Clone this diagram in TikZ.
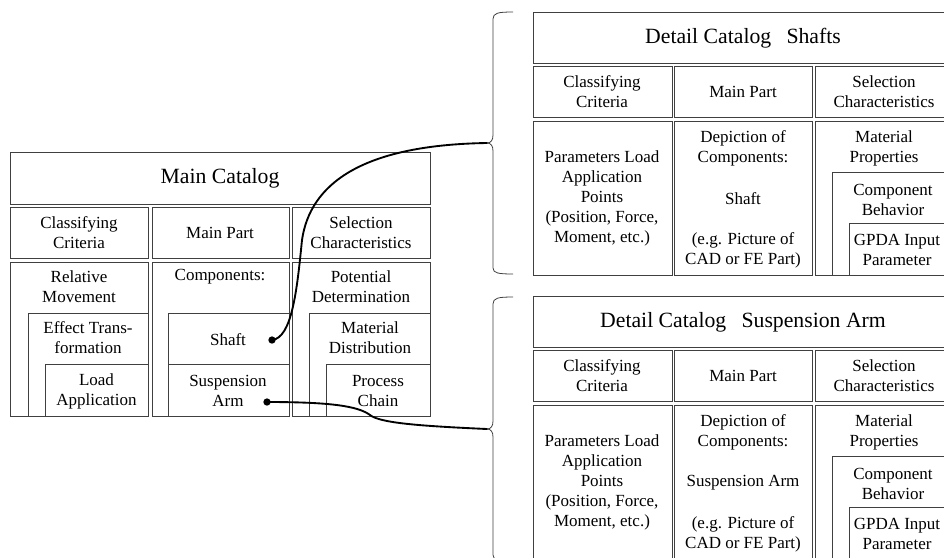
\documentclass[tikz,border=0pt]{standalone}
\usepackage{fontspec}
\setmainfont{Liberation Serif}

\begin{document}
\begin{tikzpicture}[x=0.75pt, y=-0.75pt, box/.style={draw=black!75, line width=0.6pt}, lbl/.style={align=center, inner sep=0pt, font=\fontsize{12.75}{15}\selectfont}, head/.style={inner sep=0pt, font=\fontsize{16.3}{19}\selectfont}, link/.style={line width=1.4pt, line cap=round}, dot/.style={circle, fill, inner sep=0pt, minimum size=5.5pt},]
   \useasboundingbox (0,0) rectangle (944,557);
   \clip (0,0) rectangle (944,557);

   % main catalog
   \draw[box] (10,152) rectangle (430,204);
   \node[head] (main) at (220,178) {Main Catalog};
   \draw[box] (10,207) rectangle (148,258);
   \draw[box] (152,207) rectangle (289,258);
   \draw[box] (292,207) rectangle (430,258);
   \node[lbl] (mcrit) at (79,233) {Classifying\\Criteria};
   \node[lbl] (mpart) at (220,233) {Main Part};
   \node[lbl] (msel) at (361,233) {Selection\\Characteristics};
   \draw[box] (10,262) rectangle (148,416);
   \draw[box] (152,262) rectangle (289,416);
   \draw[box] (292,262) rectangle (430,416);
   \node[lbl] (relmov) at (79,287) {Relative\\Movement};
   \draw[box] (28,313) rectangle (148,416);
   \node[lbl] (efftr) at (88,338) {Effect Trans-\\formation};
   \draw[box] (45,364) rectangle (148,416);
   \node[lbl] (loadapp) at (96.5,391) {Load\\Application};
   \node[lbl] (comps) at (220,277) {Components:};
   \draw[box] (168,313) rectangle (289,364);
   \node[lbl] (shaft) at (228,340) {Shaft};
   \draw[box] (168,364) rectangle (289,416);
   \node[lbl] (arm) at (228,391) {Suspension\\Arm};
   \node[lbl] (potdet) at (361,287) {Potential\\Determination};
   \draw[box] (309,313) rectangle (430,416);
   \node[lbl] (matdist) at (370,338) {Material\\Distribution};
   \draw[box] (326,364) rectangle (430,416);
   \node[lbl] (proc) at (378,391) {Process\\Chain};

   % detail catalogs
   \foreach \dy/\nm/\part/\id in {0/Shafts/Shaft/s, 284/Suspension Arm/Suspension Arm/a} {
   \begin{scope}[shift={(0,\dy)}]
      \draw[box] (533,12) rectangle (953,63);
      \node[head] (dhead\id) at (743,38) {Detail Catalog\hspace{0.7em}\nm};
      \draw[box] (533,66) rectangle (672,117);
      \draw[box] (674,66) rectangle (812,117);
      \draw[box] (815,66) rectangle (953,117);
      \node[lbl] (dcrit\id) at (602,92) {Classifying\\Criteria};
      \node[lbl] (dpart\id) at (743,92) {Main Part};
      \node[lbl] (dsel\id) at (884,92) {Selection\\Characteristics};
      \draw[box] (533,121) rectangle (672,275);
      \draw[box] (674,121) rectangle (812,275);
      \draw[box] (815,121) rectangle (953,275);
      \node[lbl] (dparam\id) at (602,198) {Parameters Load\\Application\\Points\\(Position, Force,\\Moment, etc.)};
      \node[lbl] (ddep\id) at (743,148) {Depiction of\\Components:};
      \node[lbl] (dcomp\id) at (743,199) {\part};
      \node[lbl] (dpic\id) at (743,250) {(e.g. Picture of\\CAD or FE Part)};
      \node[lbl] (dmat\id) at (884,148) {Material\\Properties};
      \draw[box] (832,172) rectangle (953,275);
      \node[lbl] (dbeh\id) at (893,200) {Component\\Behavior};
      \draw[box] (849,223) rectangle (953,275);
      \node[lbl] (dgpda\id) at (897,250) {GPDA Input\\Parameter};
   \end{scope}
   }

   % braces
   \coordinate (tipS) at (487,143);
   \coordinate (tipA) at (487,429);
   \draw[box] (513,12) .. controls (498,12) and (493,13) .. (493,19) -- (493,135) .. controls (493,140) and (491,143) .. (tipS) .. controls (491,143) and (493,146) .. (493,151) -- (493,268) .. controls (493,273) and (498,274) .. (513,274);
   \draw[box] (513,297) .. controls (498,297) and (493,298) .. (493,304) -- (493,421) .. controls (493,426) and (491,429) .. (tipA) .. controls (491,429) and (493,432) .. (493,437) -- (493,555) .. controls (493,560) and (498,561) .. (513,561);

   % links
   \node[dot] (dshaft) at (272,340) {};
   \node[dot] (darm) at (267,402) {};
   \draw[link] (dshaft.center) .. controls (292,338) and (297,290) .. (302,240) .. controls (310,185) and (360,145) .. (tipS);
   \draw[link] (darm.center) .. controls (330,402) and (358,406) .. (370,415) .. controls (380,423) and (420,426) .. (tipA);

\end{tikzpicture}
\end{document}
